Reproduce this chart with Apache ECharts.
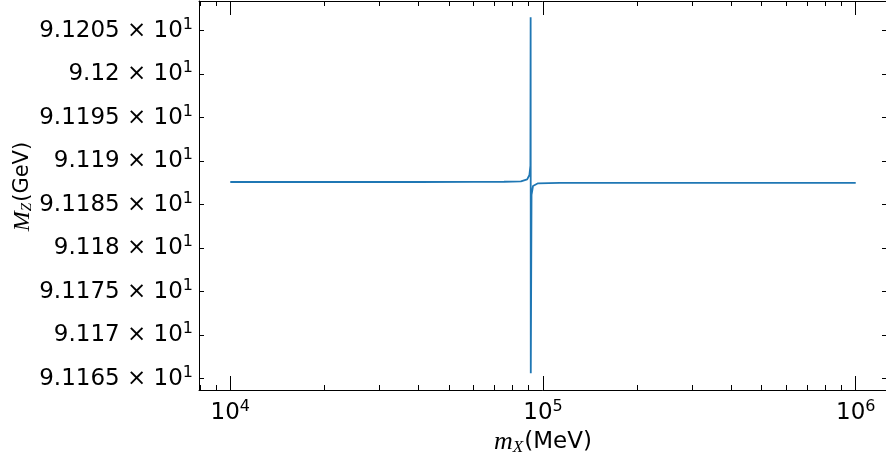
<!DOCTYPE html>
<html>
<head>
<meta charset="utf-8">
<script src="https://cdn.jsdelivr.net/npm/echarts@6/dist/echarts.min.js"></script>
<style>
  html, body { margin: 0; padding: 0; background: #fff; }
  #chart { width: 886px; height: 457px; }
</style>
</head>
<body>
<div id="chart"></div>
<script>
// m_X scan (MeV) and the resulting M_Z (GeV)
var mX = [10000, 20000, 40000, 60000, 75000, 85000, 89000, 90500, 91150, 91300, 91400, 91900, 92900, 96400, 113000, 200000, 500000, 1000000];
var mZ = [91.18760, 91.18760, 91.18760, 91.18761, 91.18763, 91.18768, 91.18791, 91.18841, 91.18950, 91.20653, 91.16562, 91.18611, 91.18714, 91.18745, 91.18750, 91.18751, 91.18751, 91.18751];

// axis ranges and ticks
var xRange = [7943.28, 1258925];          // 10^3.9 .. 10^6.1
var yRange = [91.1637, 91.2084];
var xMinorTicks = [8000, 9000, 20000, 30000, 40000, 50000, 60000, 70000, 80000, 90000,
  200000, 300000, 400000, 500000, 600000, 700000, 800000, 900000];
var yTicks = [91.165, 91.17, 91.175, 91.18, 91.185, 91.19, 91.195, 91.2, 91.205];
var yTickMantissa = ['9.1165', '9.117', '9.1175', '9.118', '9.1185', '9.119', '9.1195', '9.12', '9.1205'];

var BLACK = '#000';
var FONT = 'DejaVu Sans';

var chart = echarts.init(document.getElementById('chart'));

var lineBlack = { color: BLACK, width: 1 };

function powLabel(v) {
  var e = Math.log10(v);
  if (Math.abs(e - Math.round(e)) > 1e-6) return '';
  return '{b|10}{s|' + Math.round(e) + '}';
}

function yLabel(v) {
  for (var i = 0; i < yTicks.length; i++) {
    if (Math.abs(yTicks[i] - v) < 1e-7) return '{b|' + yTickMantissa[i] + ' \u00d7 10}{s|1}';
  }
  return '';
}

var tickRich = {
  b: { fontFamily: FONT, fontSize: 23, color: BLACK },
  s: { fontFamily: FONT, fontSize: 16, color: BLACK, padding: [0, 0, 12, 0] }
};

function minorLogAxis(pos) {
  return {
    type: 'value', position: pos,
    min: Math.log10(xRange[0]), max: Math.log10(xRange[1]),
    axisLine: { show: false },
    axisLabel: { show: false },
    splitLine: { show: false },
    axisTick: { show: true, inside: true, length: 5, lineStyle: lineBlack,
      customValues: xMinorTicks.map(function (t) { return Math.log10(t); }) }
  };
}

var option = {
  animation: false,
  backgroundColor: '#fff',
  grid: { left: 199, right: -1, top: 1, bottom: 67, containLabel: false, outerBoundsMode: 'none' },
  xAxis: [
    {
      type: 'log', position: 'bottom',
      min: xRange[0], max: xRange[1],
      axisLine: { show: true, onZero: false, lineStyle: lineBlack },
      axisTick: { show: true, inside: true, length: 14, lineStyle: lineBlack },
      splitLine: { show: false },
      axisLabel: { formatter: powLabel, rich: tickRich, margin: 9, showMinLabel: false, showMaxLabel: false },
      name: '{mi|m}{sub|X}{r|(MeV)}',
      nameLocation: 'middle', nameGap: 34,
      nameTextStyle: {
        rich: {
          mi: { fontFamily: 'Liberation Serif', fontStyle: 'italic', fontSize: 26, color: BLACK },
          sub: { fontFamily: 'Liberation Serif', fontStyle: 'italic', fontSize: 17, color: BLACK, padding: [10, 1, 0, 0] },
          r: { fontFamily: FONT, fontSize: 23, color: BLACK }
        }
      }
    },
    minorLogAxis('bottom'),
    {
      type: 'log', position: 'top',
      min: xRange[0], max: xRange[1],
      axisLine: { show: true, onZero: false, lineStyle: lineBlack },
      axisTick: { show: true, inside: true, length: 14, lineStyle: lineBlack },
      splitLine: { show: false },
      axisLabel: { show: false }
    },
    minorLogAxis('top')
  ],
  yAxis: [
    {
      type: 'value', position: 'left',
      min: yRange[0], max: yRange[1],
      axisLine: { show: true, onZero: false, lineStyle: lineBlack },
      axisTick: { show: true, inside: true, length: 5, lineStyle: lineBlack, customValues: yTicks },
      splitLine: { show: false },
      axisLabel: { customValues: yTicks, formatter: yLabel, rich: tickRich, margin: 6 },
      name: '{mi|M}{sub|Z}{r|(GeV)}',
      nameLocation: 'middle', nameGap: 164, nameMoveOverlap: false,
      nameTextStyle: {
        padding: [0, 0, 0, 18],
        rich: {
          mi: { fontFamily: 'Liberation Serif', fontStyle: 'italic', fontSize: 24, color: BLACK },
          sub: { fontFamily: 'Liberation Serif', fontStyle: 'italic', fontSize: 15, color: BLACK, padding: [8, 1, 0, 0] },
          r: { fontFamily: FONT, fontSize: 21, color: BLACK }
        }
      }
    },
    {
      type: 'value', position: 'right',
      min: yRange[0], max: yRange[1],
      axisLine: { show: true, onZero: false, lineStyle: lineBlack },
      axisTick: { show: true, inside: true, length: 5, lineStyle: lineBlack, customValues: yTicks },
      splitLine: { show: false },
      axisLabel: { show: false }
    }
  ],
  series: [
    {
      type: 'line',
      xAxisIndex: 0, yAxisIndex: 0,
      showSymbol: false,
      lineStyle: { color: '#1f77b4', width: 1.8 },
      data: mX.map(function (m, i) { return [m, mZ[i]]; })
    }
  ]
};

chart.setOption(option);
</script>
</body>
</html>
